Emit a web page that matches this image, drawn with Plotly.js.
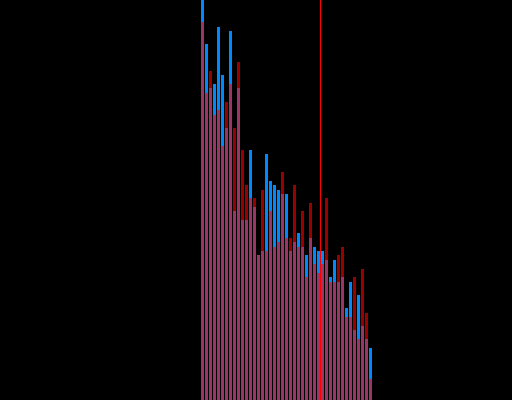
<!DOCTYPE html>
<html>
<head>
<meta charset="utf-8">
<script src="https://cdn.plot.ly/plotly-3.0.1.min.js"></script>
<style>html,body{margin:0;padding:0;background:#000;}#chart{width:512px;height:400px;}</style>
</head>
<body>
<div id="chart"></div>
<script>
// bin index (43 bins)
var bins = [];
for (var i = 0; i < 43; i++) bins.push(i);

// blue series heights
var blueValues = [410,356,312,316,373,325,272,369,189,312,
                  180,180,250,193,145,149,246,219,215,210,
                  206,206,149,158,167,153,145,162,153,149,
                  149,140,123,140,118,123,92,118,70,105,
                  74,61,52];
// red series heights
var redValues = [378,307,329,285,290,254,298,316,272,338,
                 250,215,202,202,145,210,149,189,153,158,
                 228,162,162,215,153,189,123,197,136,127,
                 136,202,118,118,145,153,83,83,123,61,
                 131,87,21];
// marker line position (between bins)
var markerX = 29.5;

var traces = [
  {type:'bar', x:bins, y:blueValues, marker:{color:'#0088ff', line:{width:0}}, opacity:1, hoverinfo:'none'},
  {type:'bar', x:bins, y:redValues, marker:{color:'#ff0000', line:{width:0}}, opacity:0.6, hoverinfo:'none'}
];

var layout = {
  width:512, height:400,
  margin:{l:0,r:0,t:0,b:0,pad:0},
  paper_bgcolor:'#000', plot_bgcolor:'#000',
  barmode:'overlay', bargap:0.25,
  showlegend:false,
  xaxis:{range:[-50.625,77.375], visible:false, showgrid:false, zeroline:false},
  yaxis:{range:[0,400], visible:false, showgrid:false, zeroline:false},
  shapes:[{type:'line', xref:'x', yref:'paper', x0:markerX, x1:markerX, y0:0, y1:1, line:{color:'#ff0000', width:1}}]
};

Plotly.newPlot('chart', traces, layout, {staticPlot:true, displayModeBar:false});
</script>
</body>
</html>
